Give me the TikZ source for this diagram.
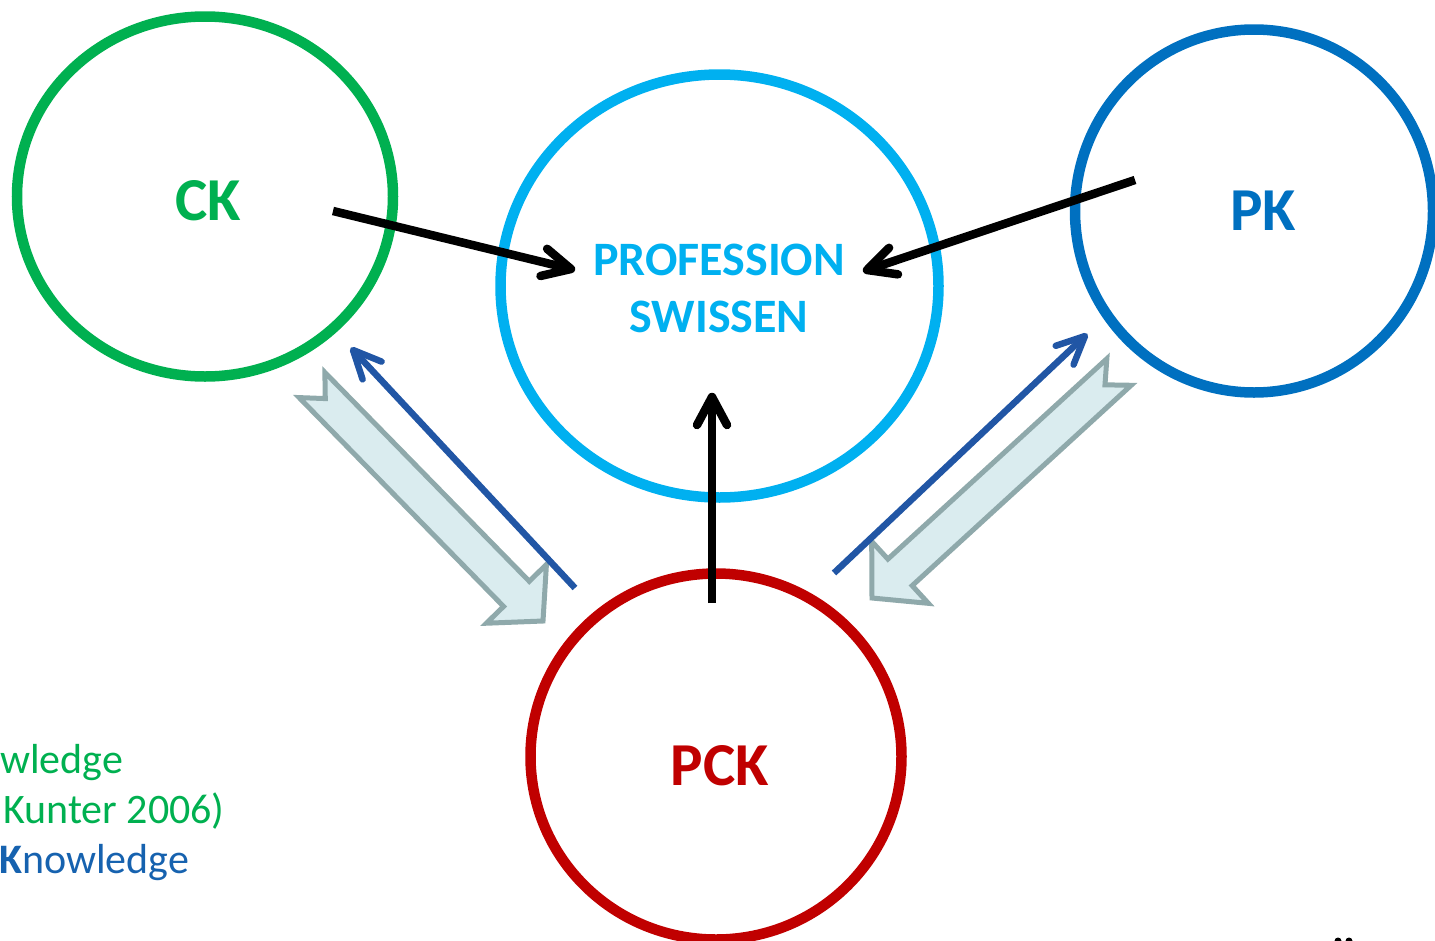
\documentclass[tikz,border=0pt]{standalone}
\usepackage{fontspec}
\setmainfont{Carlito}
\usetikzlibrary{calc,shapes.geometric}
\definecolor{ckgreen}{HTML}{00B050}
\definecolor{profcyan}{HTML}{00B0F0}
\definecolor{pkblue}{HTML}{0070C0}
\definecolor{pckred}{HTML}{C00000}
\definecolor{linkblue}{HTML}{2156A5}
\definecolor{blockfill}{HTML}{DAECEF}
\definecolor{blockedge}{HTML}{8FA9AB}
\definecolor{legblue}{HTML}{1662AF}
\newcommand\mkblockarrow[2]{%
  \coordinate (hb) at ($(#2)!38pt!(#1)$);
  \draw[blockarr]
    ($(#1)!18pt!90:(#2)$) -- ($(hb)!18pt!90:(#2)$) -- ($(hb)!42pt!90:(#2)$)
    -- (#2) -- ($(hb)!42pt!-90:(#2)$) -- ($(hb)!18pt!-90:(#2)$)
    -- ($(#1)!18pt!-90:(#2)$) -- ($(#1)!19pt!(#2)$) -- cycle;}
% #1 style, #2 start, #3 tip, #4 head length, #5 head half width
\newcommand\mkbarbarrow[5]{%
  \coordinate (ab) at ($(#3)!#4!(#2)$);
  \draw[#1, line cap=butt] (#2) -- (#3);
  \draw[#1, line cap=round, line join=round]
    ($(ab)!#5!90:(#3)$) -- (#3) -- ($(ab)!#5!-90:(#3)$);}
\begin{document}
\begin{tikzpicture}[x=1pt,y=-1pt,
  knowcircle/.style={ellipse, draw, line width=10.5pt, inner sep=0pt},
  biglabel/.style={inner sep=0pt, font=\bfseries\fontsize{61}{61}\selectfont},
  bigarrow/.style={draw=black, line width=8.5pt},
  linkarrow/.style={draw=linkblue, line width=6.5pt},
  blockarr/.style={fill=blockfill, draw=blockedge, line width=5pt, line join=miter},
  legtext/.style={inner sep=0pt, anchor=base west, font=\fontsize{42}{42}\selectfont}]
\useasboundingbox (0,0) rectangle (1435,940);

% knowledge circles
\node[knowcircle, draw=ckgreen, minimum width=376pt, minimum height=360pt] (ck) at (205,196.5) {};
\node[knowcircle, draw=profcyan, minimum width=438pt, minimum height=423pt] (prof) at (719.5,286) {};
\node[knowcircle, draw=pkblue, minimum width=358pt, minimum height=363pt] (pk) at (1254,211) {};
\node[knowcircle, draw=pckred, minimum width=371pt, minimum height=366pt] (pck) at (716,756.5) {};

% labels
\node[biglabel, text=ckgreen] (cklabel) at (208,201) {CK};
\node[biglabel, text=pkblue] (pklabel) at (1263,211) {PK};
\node[biglabel, text=pckred] (pcklabel) at (720,766) {PCK};
\node[inner sep=0pt, align=center, text=profcyan,
      font=\bfseries\fontsize{48}{57}\selectfont] (proflabel) at (719,288) {PROFESSION\\SWISSEN};

% connector end points
\coordinate (ckout) at (333,211);
\coordinate (ckin) at (571,269);
\coordinate (pkout) at (1135,180);
\coordinate (pkin) at (867,270);
\coordinate (pckout) at (712,603);
\coordinate (pckin) at (712,397);
\coordinate (pcktock) at (575,588);
\coordinate (cktip) at (353,350);
\coordinate (pcktopk) at (834,573);
\coordinate (pktip) at (1085,336);
\coordinate (bl-tail) at (312,385);
\coordinate (bl-tip) at (543,621);
\coordinate (br-tail) at (1119,372);
\coordinate (br-tip) at (872,598);

% block arrows
\mkblockarrow{bl-tail}{bl-tip}
\mkblockarrow{br-tail}{br-tip}

% black arrows into the centre
\mkbarbarrow{bigarrow}{ckout}{ckin}{28pt}{14pt}
\mkbarbarrow{bigarrow}{pkout}{pkin}{28pt}{14pt}
\mkbarbarrow{bigarrow}{pckout}{pckin}{28pt}{15pt}

% blue arrows from PCK
\mkbarbarrow{linkarrow}{pcktock}{cktip}{28pt}{13pt}
\mkbarbarrow{linkarrow}{pcktopk}{pktip}{28pt}{13pt}

% legend (cut at the left edge)
\node[legtext, text=ckgreen] (leg1) at (0,773) {wledge};
\node[legtext, text=ckgreen] (leg2) at (3,823) {Kunter 2006)};
\node[legtext, text=legblue] (leg3) at (-1,873) {\textbf{K}nowledge};

% dots at the bottom edge
\fill (1338,941) circle[radius=3.5pt];
\fill (1349,941) circle[radius=3.5pt];
\end{tikzpicture}
\end{document}
